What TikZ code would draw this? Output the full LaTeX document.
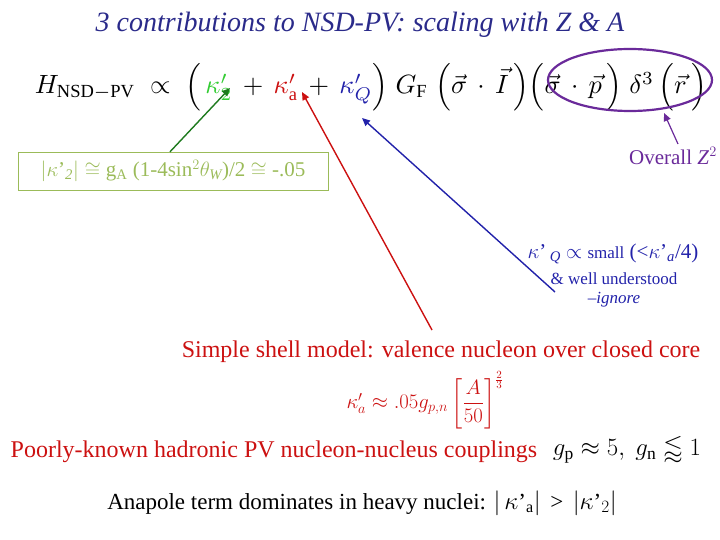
\documentclass[tikz,border=0pt]{standalone}
\usepackage{amsmath,amssymb}
\usepackage{graphicx}
\usepackage{fontspec}
\setmainfont{Liberation Serif}
\definecolor{ttl}{HTML}{2A2A8A}
\definecolor{olv}{HTML}{9BBB59}
\definecolor{dgr}{HTML}{1E7A1E}
\definecolor{kgr}{HTML}{33CC33}
\definecolor{rd}{HTML}{CC1111}
\definecolor{bl}{HTML}{2222AA}
\definecolor{pur}{HTML}{6A2A9A}
\usetikzlibrary{arrows.meta}
\tikzset{arr/.style={-{Triangle[length=8pt,width=7pt]},line width=1.4pt}}
\begin{document}
\begin{tikzpicture}[x=1pt,y=-1pt]
\useasboundingbox (0,0) rectangle (720,540);
\node (title) at (360,25) {\fontsize{28}{32}\selectfont\color{ttl}\itshape 3 contributions to NSD-PV: scaling with Z \& A};
\node (eq) at (371,87) {\resizebox{672pt}{!}{$H_{\mathrm{NSD-PV}}\;\propto\;\Bigl(\,\textcolor{kgr}{\kappa'_2}\,+\,\textcolor{rd}{\kappa'_{\mathrm a}}\,+\,\textcolor{bl}{\kappa'_Q}\Bigr)\;G_{\mathrm F}\;\Bigl(\vec\sigma\,\cdot\,\vec I\,\Bigr)\Bigl(\vec\sigma\,\cdot\,\vec p\,\Bigr)\;\delta^3\,\Bigl(\vec r\,\Bigr)$}};
\coordinate (k2) at (230,88);
\coordinate (ka) at (302,92);
\coordinate (kq) at (362,118);
\draw[pur,line width=2.2pt] (630,80) ellipse (82 and 31);
\coordinate (ell) at (664,113);
\node[draw=olv,text=olv,minimum width=310,minimum height=38,inner sep=2pt] (box) at (173,171) {\fontsize{21}{24}\selectfont $|\kappa\text{'}_{\mathit 2}|\cong$ g$_{\mathrm A}$ (1-4sin$^2\theta_{\mathit W}$)/2 $\cong$ -.05};
\node[text=pur,anchor=north] (ov) at (673,144) {\fontsize{21}{24}\selectfont Overall \textit{Z}$^2$};
\node[text=bl] (kqt) at (613,254) {\fontsize{21}{24}\selectfont $\kappa$\textquoteright\,$_{\mathit Q}$ $\propto$ {\fontsize{17}{20}\selectfont small} (<$\kappa$\textquoteright$_{\mathit a}$/4)};
\node[text=bl] (wu) at (614,279) {\fontsize{17}{20}\selectfont \& well understood};
\node[text=bl] (ig) at (614,300) {\fontsize{17}{20}\selectfont --\textit{ignore}};
\node[text=rd] (shell) at (441,352) {\fontsize{24}{28}\selectfont Simple shell model: valence nucleon over closed core};
\node[text=rd] (kaf) at (425,400) {\fontsize{21}{24}\selectfont $\kappa'_a\approx.05g_{p,n}\left[\dfrac{A}{50}\right]^{\frac23}$};
\node[text=rd] (poor) at (274,452) {\fontsize{24}{28}\selectfont Poorly-known hadronic PV nucleon-nucleus couplings};
\node (gp) at (627,450) {\fontsize{25}{28}\selectfont $g_{\mathrm p}\approx5,\ g_{\mathrm n}\lessapprox1$};
\node (ana) at (362,503) {\fontsize{23}{26}\selectfont Anapole term dominates in heavy nuclei: $|$\,$\kappa$\textquoteright$_{\mathrm a}|$ \,>\, $|\kappa$\textquoteright$_{2}|$};
\draw[arr,dgr] (box.north -| 170,0) -- (k2);
\draw[arr,rd] (432,330) -- (ka);
\draw[arr,bl] (555,292) -- (kq);
\draw[arr,pur,line width=1.2pt] (ov.north -| 678,0) -- (ell);
\end{tikzpicture}
\end{document}
